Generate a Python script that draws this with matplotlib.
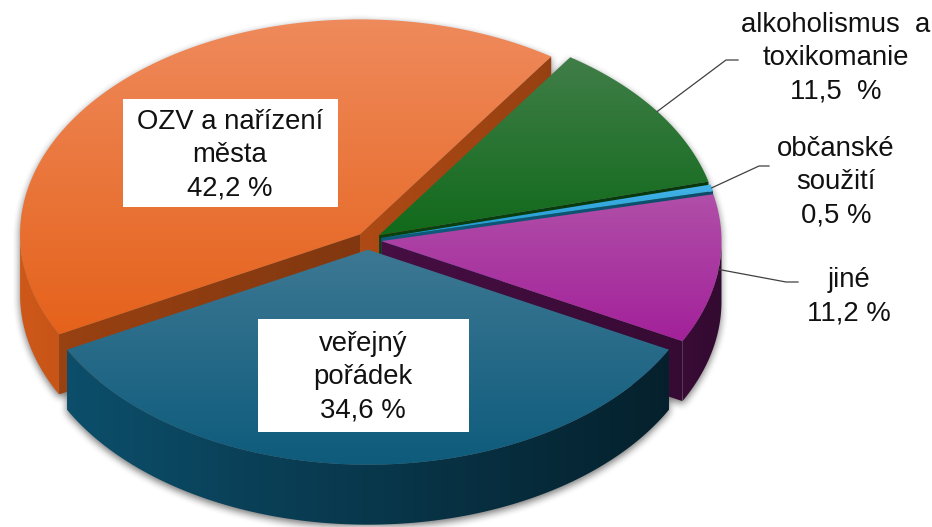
import numpy as np
import matplotlib
matplotlib.use('Agg')
import matplotlib.pyplot as plt
from matplotlib.patches import Polygon, Rectangle
from matplotlib.path import Path
from matplotlib.colors import to_rgb

plt.rcParams['font.family'] = ['Liberation Sans', 'DejaVu Sans']

# data (v poradi proti smeru hodinovych rucicek, od spodni vysece)
kategorie = ['veřejný\npořádek', 'jiné', 'občanské\nsoužití', 'alkoholismus  a\ntoxikomanie', 'OZV a nařízení\nměsta']
hodnoty = [34.6, 11.2, 0.5, 11.5, 42.2]
popisky = ['34,6 %', '11,2 %', '0,5 %', '11,5  %', '42,2 %']
barvy_horni = ['#3D7893', '#B04FA8', '#45B4E8', '#407E48', '#EF8A5C']
barvy_dolni = ['#0E5B7C', '#A3219A', '#1C96D0', '#116A1B', '#E5621B']
vysunuti = [0.045, 0.04, 0.04, 0.04, 0.035]

# geometrie "3D" kolace (v pixelech)
cx, cy = 368, 240
a, b = 340, 215
hloubka = 60

fig = plt.figure(figsize=(9.32, 5.27), dpi=100)
ax = fig.add_axes([0, 0, 1, 1])


def bod(x0, y0, t):
    return np.column_stack([x0 + a * np.cos(t), y0 - b * np.sin(t)])


def vypln(pts, c1, c2, z, smer='v'):
    pts = np.asarray(pts)
    patch = Polygon(pts, closed=True, fc='none', ec='none', zorder=z)
    ax.add_patch(patch)
    x0, y0 = pts.min(axis=0)
    x1, y1 = pts.max(axis=0)
    t = np.linspace(0, 1, 128)[:, None]
    cols = np.array(to_rgb(c1)) * (1 - t) + np.array(to_rgb(c2)) * t
    img = cols[:, None, :] if smer == 'v' else cols[None, :, :]
    im = ax.imshow(np.clip(img, 0, 1), extent=(x0, x1 + 0.01, y1 + 0.01, y0), origin='upper',
                   aspect='auto', zorder=z, interpolation='bilinear')
    im.set_clip_path(patch)


def stin_faktor(x):
    return np.clip(0.9 - (x - 20) / (716 - 20) * 0.58, 0.25, 0.95)


uhly = np.cumsum([0] + hodnoty) / sum(hodnoty) * 2 * np.pi
start = np.pi * 1.5 - uhly[1] / 2
uhly = uhly + start

vysece = []
for i in range(len(hodnoty)):
    t1, t2 = uhly[i], uhly[i + 1]
    mid = (t1 + t2) / 2
    vx = cx + vysunuti[i] * a * np.cos(mid)
    vy = cy - vysunuti[i] * b * np.sin(mid)
    vysece.append((i, t1, t2, mid, vx, vy))

# silueta pro stin
silueta = []
kresleni = []
for i, t1, t2, mid, vx, vy in vysece:
    tt = np.linspace(t1, t2, 300)
    oblouk = bod(vx, vy, tt)
    horni = np.vstack([[vx, vy], oblouk])
    dolni = horni + [0, hloubka]
    silueta += [horni, dolni]
    predni = tt[np.sin(tt) <= 0]
    boky = []
    if len(predni) > 1:
        p = bod(vx, vy, predni)
        bok = np.vstack([p, p[::-1] + [0, hloubka]])
        boky.append((None, bok))
        silueta.append(bok)
    for t, vid, nx in ((t1, np.cos(t1) > 0, np.cos(t1 - np.pi / 2)),
                       (t2, np.cos(t2) < 0, np.cos(t2 + np.pi / 2))):
        if vid:
            r = bod(vx, vy, np.array([t]))[0]
            bok = np.array([[vx, vy], r, r + [0, hloubka], [vx, vy + hloubka]])
            boky.append((nx, bok))
            silueta.append(bok)
    kresleni.append((np.sin(mid), i, horni, boky))

# mekky stin
yy, xx = np.mgrid[0:527, 0:932] + 0.5
mrizka = np.column_stack([xx.ravel(), yy.ravel() - 3])
maska = np.zeros(len(mrizka), dtype=bool)
for poly in silueta:
    maska |= Path(poly).contains_points(mrizka)
maska = maska.reshape(yy.shape).astype(float)
k = np.ones(9) / 9
for _ in range(2):
    maska = np.apply_along_axis(lambda v: np.convolve(v, k, mode='same'), 0, maska)
    maska = np.apply_along_axis(lambda v: np.convolve(v, k, mode='same'), 1, maska)
stin = np.zeros(yy.shape + (4,))
stin[..., 3] = maska * 0.55
ax.imshow(stin, extent=(0, 932, 527, 0), origin='upper', aspect='auto', zorder=0)

# vysece od zadni k predni
z = 1
for _, i, horni, boky in sorted(kresleni, key=lambda v: -v[0]):
    c = np.array(to_rgb(barvy_dolni[i]))
    for nx, bok in boky:
        if nx is not None:
            f = 0.5 + 0.25 * nx
            vypln(bok, c * (f + 0.05), c * (f - 0.05), z, 'h')
        else:
            x0, x1 = bok[:, 0].min(), bok[:, 0].max()
            vypln(bok, c * stin_faktor(x0), c * stin_faktor(x1), z, 'h')
        z += 1
    vypln(horni, barvy_horni[i], barvy_dolni[i], z)
    z += 1

# popisky
pismo = dict(fontsize=19.8, color='#111111', ha='center', va='center', linespacing=1.36, zorder=60)

# uvnitr - bile ramecky
ax.add_patch(Rectangle((123, 99), 215, 108, fc='white', ec='none', zorder=55))
ax.text(230, 155, kategorie[4] + '\n' + popisky[4], **pismo)
ax.add_patch(Rectangle((258, 319), 211, 113, fc='white', ec='none', zorder=55))
ax.text(363, 377, kategorie[0] + '\n' + popisky[0], **pismo)

# venku - s odkazovou carou
venku = {3: ((726, 60), (738, 60), (836, 58)),
         2: ((759, 166), (769, 166), (836, 182)),
         1: ((786, 282), (798, 282), (849, 297))}
for i, (loket, konec, txt) in venku.items():
    _, t1, t2, mid, vx, vy = vysece[i]
    p = bod(vx, vy, np.array([mid]))[0]
    ax.plot([p[0], loket[0], konec[0]], [p[1], loket[1], konec[1]],
            color='#404040', lw=0.9, zorder=58)
    ax.text(txt[0], txt[1], kategorie[i] + '\n' + popisky[i], **pismo)

ax.set_xlim(0, 932)
ax.set_ylim(527, 0)
ax.axis('off')
fig.savefig('out.png', dpi=100)
